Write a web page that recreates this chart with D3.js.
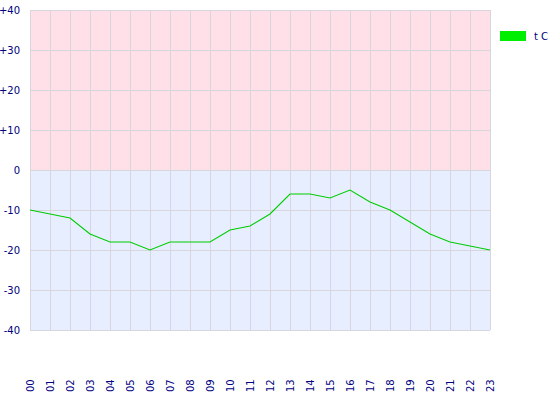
<!DOCTYPE html>
<html><head><meta charset="utf-8">
<script src="https://cdn.jsdelivr.net/npm/d3@7"></script>
<style>body{margin:0;background:#fff}svg{display:block}</style>
</head><body>
<script>
const hours = ["00","01","02","03","04","05","06","07","08","09","10","11","12","13","14","15","16","17","18","19","20","21","22","23"];
const temps = [-10,-11,-12,-16,-18,-18,-20,-18,-18,-18,-15,-14,-11,-6,-6,-7,-5,-8,-10,-13,-16,-18,-19,-20];
const yTicks = [40,30,20,10,0,-10,-20,-30,-40];
const yTickLabels = ["+40","+30","+20","+10","0","-10","-20","-30","-40"];
const seriesName = "t C";

const W=560,H=400;
const svg=d3.select("body").append("svg").attr("width",W).attr("height",H);
const x=d3.scalePoint().domain(hours).range([30,490]);
const y=d3.scaleLinear().domain([-40,40]).range([330,10]);
const font="'DejaVu Sans', Verdana, sans-serif";
const txt="#000080";

svg.append("rect").attr("x",30).attr("y",y(40)).attr("width",460).attr("height",y(0)-y(40)).attr("fill","#ffdfe8");
svg.append("rect").attr("x",30).attr("y",y(0)).attr("width",460).attr("height",y(-40)-y(0)).attr("fill","#e6eeff");

svg.append("g").selectAll("line").data(hours).join("line")
 .attr("x1",d=>x(d)+0.5).attr("x2",d=>x(d)+0.5).attr("y1",y(40)).attr("y2",y(-40))
 .attr("stroke","#d6d6dc").attr("stroke-width",1);
svg.append("g").selectAll("line").data(yTicks).join("line")
 .attr("x1",30).attr("x2",490).attr("y1",d=>y(d)+0.5).attr("y2",d=>y(d)+0.5)
 .attr("stroke","#d6d6dc").attr("stroke-width",1);

svg.append("g").selectAll("text").data(yTicks).join("text")
 .attr("x",20).attr("y",d=>y(d)).attr("text-anchor","end").attr("dominant-baseline","central")
 .attr("font-family",font).attr("font-size",10).attr("fill",txt)
 .text((d,i)=>yTickLabels[i]);

svg.append("g").selectAll("text").data(hours).join("text")
 .attr("transform",d=>`translate(${x(d)+0.5},392) rotate(-90)`)
 .attr("text-anchor","start").attr("dominant-baseline","central")
 .attr("font-family",font).attr("font-size",10).attr("fill",txt)
 .text(d=>d);

const line=d3.line().x((d,i)=>x(hours[i])).y(d=>y(d));
svg.append("path").datum(temps).attr("d",line).attr("fill","none")
 .attr("stroke","#00cc00").attr("stroke-width",1.1);

svg.append("rect").attr("x",500).attr("y",31).attr("width",26).attr("height",10).attr("fill","#00ee00");
svg.append("text").attr("x",534).attr("y",36).attr("dominant-baseline","central")
 .attr("font-family",font).attr("font-size",10).attr("fill",txt).text(seriesName);
</script>
</body></html>
